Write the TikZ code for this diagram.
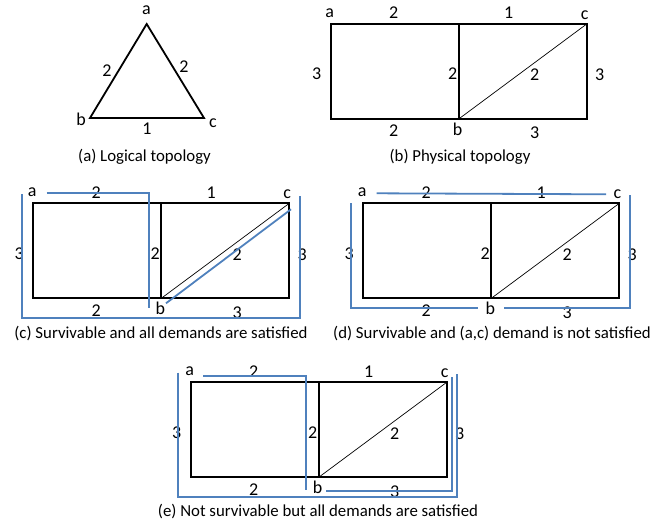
\documentclass[tikz,border=0pt]{standalone}
\usepackage{fontspec}
\setmainfont{Carlito}
\definecolor{route}{RGB}{79,129,189}
\tikzset{
  edge/.style={line width=1.8pt,line join=miter},
  diag/.style={line width=0.7pt},
  lbl/.style={inner sep=0pt,font=\fontsize{18}{20}\selectfont},
  captxt/.style={inner sep=0pt,font=\fontsize{16.8}{19}\selectfont},
  routeline/.style={route,line width=1.8pt}
}
% physical topology, origin at its upper left corner
\newcommand{\physnet}{%
  \coordinate (tl) at (0,0);
  \coordinate (tm) at (128,0);
  \coordinate (tr) at (256,0);
  \coordinate (bl) at (0,95);
  \coordinate (bm) at (128,95);
  \coordinate (br) at (256,95);
  \draw[edge] (tl) rectangle (br);
  \draw[edge] (tm) -- (bm);
  \draw[diag] (bm) -- (tr);
  \node[lbl] (a) at (-1,-11) {a};
  \node[lbl] (b) at (127,105) {b};
  \node[lbl] (c) at (254,-9) {c};
  \node[lbl] (ab) at (63,-11) {2};
  \node[lbl] (ac) at (178,-11) {1};
  \node[lbl] (al) at (-14,50) {3};
  \node[lbl] (mid) at (122,50) {2};
  \node[lbl] (bc) at (204,51) {2};
  \node[lbl] (cr) at (269,51) {3};
  \node[lbl] (bl2) at (63,107) {2};
  \node[lbl] (br3) at (204,109) {3};
}
\begin{document}
\begin{tikzpicture}[x=1pt,y=-1pt]
\useasboundingbox (0,0) rectangle (667,522);

% (a) logical topology
\coordinate (ta) at (146.7,24);
\coordinate (tb) at (90,118);
\coordinate (tc) at (204,118);
\draw[edge] (ta) -- (tb) -- (tc) -- cycle;
\node[lbl] (la) at (146.5,10) {a};
\node[lbl] (lb) at (81,119) {b};
\node[lbl] (lc) at (213,123) {c};
\node[lbl] (lab) at (107,71) {2};
\node[lbl] (lac) at (184,67) {2};
\node[lbl] (lbc) at (147,129) {1};
\node[captxt] (capa) at (144.5,157) {(a) Logical topology};

% (b) physical topology
\begin{scope}[shift={(330.7,24)},name prefix=b-]
\physnet
\end{scope}
\node[captxt] (capb) at (460,157) {(b) Physical topology};

% (c)
\begin{scope}[shift={(33.3,203.3)},name prefix=c-]
\physnet
\draw[routeline] (13.4,-10) -- (115.7,-10) -- (115.7,104.4);
\draw[routeline] (132.7,100) -- (257.7,6);
\draw[routeline] (-11.6,-9.3) -- (-11.6,115) -- (266.7,115) -- (266.7,-7.6);
\end{scope}
\node[captxt] (capc) at (161,334) {(c) Survivable and all demands are satisfied};

% (d)
\begin{scope}[shift={(363.3,203.3)},name prefix=d-]
\physnet
\draw[routeline] (13.4,-10) -- (242.7,-9);
\draw[routeline] (-12.6,0) -- (-12.6,104.4) -- (114.4,104.4);
\draw[routeline] (141,104.4) -- (266.7,104.4) -- (266.7,-8.3);
\end{scope}
\node[captxt] (capd) at (492,334) {(d) Survivable and (a,c) demand is not satisfied};

% (e)
\begin{scope}[shift={(190.7,382.3)},name prefix=e-]
\physnet
\draw[routeline] (12.6,-6.6) -- (115.3,-6.6) -- (115.3,107.7);
\draw[routeline] (135.3,108.4) -- (261,108.4) -- (261,-5.6);
\draw[routeline] (-12.4,-9.6) -- (-12.4,114.4) -- (266.6,114.4) -- (266.6,-8.3);
\end{scope}
\node[captxt] (cape) at (318,512) {(e) Not survivable but all demands are satisfied};
\end{tikzpicture}
\end{document}
